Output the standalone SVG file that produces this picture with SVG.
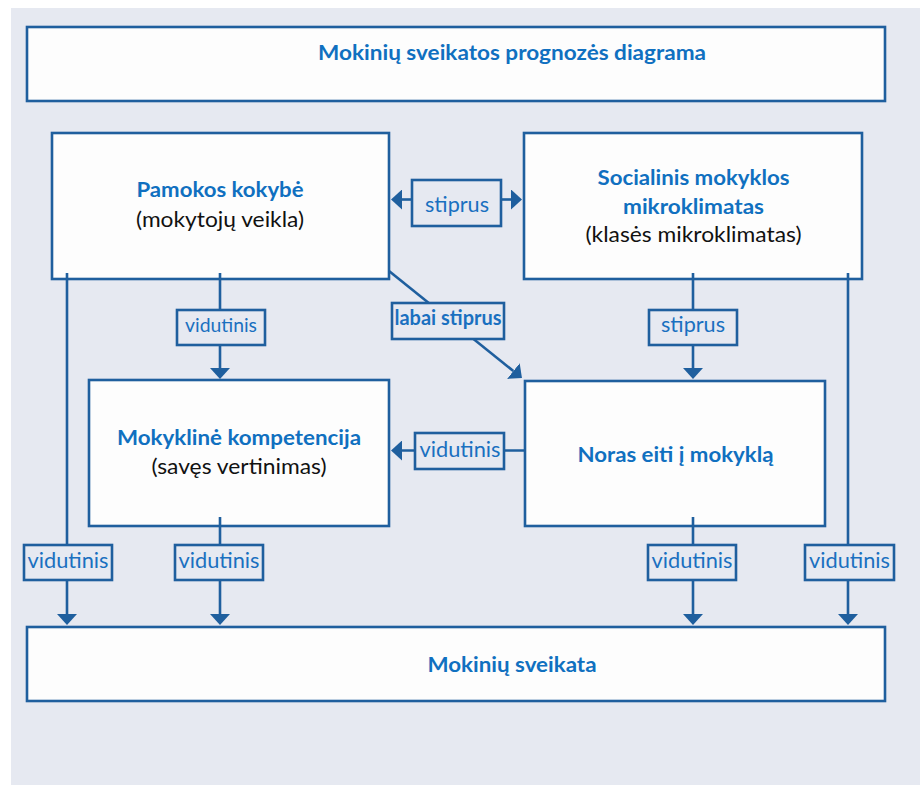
<svg xmlns="http://www.w3.org/2000/svg" width="920" height="785" viewBox="0 0 920 785">
<style>
.bg{fill:#E6E9F1}
.box{fill:#FDFDFD;stroke:#1F5F9E;stroke-width:2.6}
.lbl{fill:#E6E9F1;stroke:#1F5F9E;stroke-width:2.6}
.ln{fill:none;stroke:#1F5F9E;stroke-width:2.6;marker-end:url(#ah)}
.ln0{fill:none;stroke:#1F5F9E;stroke-width:2.6}
text{font-family:Lato,"Open Sans","DejaVu Sans",sans-serif;text-anchor:middle;font-size:21.5px}
.h{fill:#1070C0;font-weight:bold}
.s{fill:#111111}
.t{fill:#1A70C0}
.tb{fill:#1A70C0;font-weight:bold}
</style>
<defs>
<marker id="ah" markerUnits="userSpaceOnUse" viewBox="0 -10 11 20" refX="0" refY="0" markerWidth="11" markerHeight="20" orient="auto">
<path d="M0,-10 L11,0 L0,10 Z" fill="#1F5F9E"/>
</marker>
</defs>
<rect class="bg" x="11" y="8" width="909" height="777"/>

<g id="title">
<rect class="box" x="27" y="27" width="858" height="74"/>
<text class="h" x="512" y="60" textLength="388" lengthAdjust="spacingAndGlyphs">Mokinių sveikatos prognozės diagrama</text>
</g>

<g id="pamokos">
<rect class="box" x="52" y="133" width="337" height="146"/>
<text class="h" x="220" y="197" textLength="167" lengthAdjust="spacingAndGlyphs">Pamokos kokybė</text>
<text class="s" x="220" y="227" textLength="168" lengthAdjust="spacingAndGlyphs">(mokytojų veikla)</text>
</g>

<g id="socialinis">
<rect class="box" x="524" y="133" width="338" height="146"/>
<text class="h" x="693.5" y="185" textLength="192" lengthAdjust="spacingAndGlyphs">Socialinis mokyklos</text>
<text class="h" x="693.5" y="213.5" textLength="141" lengthAdjust="spacingAndGlyphs">mikroklimatas</text>
<text class="s" x="693.5" y="242" textLength="216" lengthAdjust="spacingAndGlyphs">(klasės mikroklimatas)</text>
</g>

<g id="mokykline">
<rect class="box" x="89" y="380" width="300" height="146"/>
<text class="h" x="239" y="445" textLength="244" lengthAdjust="spacingAndGlyphs">Mokyklinė kompetencija</text>
<text class="s" x="239" y="473.5" textLength="175" lengthAdjust="spacingAndGlyphs">(savęs vertinimas)</text>
</g>

<g id="noras">
<rect class="box" x="525" y="381" width="300" height="145"/>
<text class="h" x="675.5" y="462" textLength="196" lengthAdjust="spacingAndGlyphs">Noras eiti į mokyklą</text>
</g>

<g id="sveikata">
<rect class="box" x="27" y="627" width="858" height="74"/>
<text class="h" x="512" y="672" textLength="169" lengthAdjust="spacingAndGlyphs">Mokinių sveikata</text>
</g>

<g id="connectors">
<!-- Pamokos <-> Socialinis -->
<line class="ln" x1="412" y1="199.5" x2="402" y2="199.5"/>
<line class="ln" x1="501" y1="199.5" x2="511" y2="199.5"/>
<rect class="lbl" x="412" y="180" width="89" height="46"/>
<text class="t" x="457" y="211.5" textLength="64" lengthAdjust="spacingAndGlyphs">stiprus</text>

<!-- Pamokos -> Mokykline -->
<line class="ln" x1="220" y1="273" x2="220" y2="368"/>
<rect class="lbl" x="177" y="310" width="88" height="35"/>
<text class="t" x="221" y="331.5" style="font-size:19.5px" textLength="72" lengthAdjust="spacingAndGlyphs">vidutinis</text>

<!-- Pamokos -> Noras (diagonal) -->
<line class="ln" x1="389" y1="271" x2="513.4" y2="371.1"/>
<rect class="lbl" x="392" y="303" width="112" height="36"/>
<text class="tb" x="448" y="325" textLength="107" lengthAdjust="spacingAndGlyphs">labai stiprus</text>

<!-- Socialinis -> Noras -->
<line class="ln" x1="693" y1="273" x2="693" y2="368"/>
<rect class="lbl" x="649" y="310" width="88" height="35"/>
<text class="t" x="693" y="332" textLength="64" lengthAdjust="spacingAndGlyphs">stiprus</text>

<!-- Noras -> Mokykline -->
<line class="ln" x1="524" y1="450.5" x2="402" y2="450.5"/>
<rect class="lbl" x="415" y="433" width="89" height="36"/>
<text class="t" x="460" y="456.5" textLength="81" lengthAdjust="spacingAndGlyphs">vidutinis</text>

<!-- Pamokos -> Sveikata (left long) -->
<line class="ln" x1="67" y1="273" x2="67" y2="614"/>
<rect class="lbl" x="24" y="545" width="88" height="35"/>
<text class="t" x="68" y="568" textLength="81" lengthAdjust="spacingAndGlyphs">vidutinis</text>

<!-- Mokykline -> Sveikata -->
<line class="ln" x1="220" y1="517" x2="220" y2="614"/>
<rect class="lbl" x="175" y="545" width="88" height="35"/>
<text class="t" x="219" y="568" textLength="81" lengthAdjust="spacingAndGlyphs">vidutinis</text>

<!-- Noras -> Sveikata -->
<line class="ln" x1="693" y1="517" x2="693" y2="614"/>
<rect class="lbl" x="648" y="545" width="88" height="35"/>
<text class="t" x="692" y="568" textLength="81" lengthAdjust="spacingAndGlyphs">vidutinis</text>

<!-- Socialinis -> Sveikata (right long) -->
<line class="ln" x1="848" y1="273" x2="848" y2="614"/>
<rect class="lbl" x="805" y="545" width="89" height="35"/>
<text class="t" x="849.5" y="568" textLength="81" lengthAdjust="spacingAndGlyphs">vidutinis</text>
</g>
</svg>
